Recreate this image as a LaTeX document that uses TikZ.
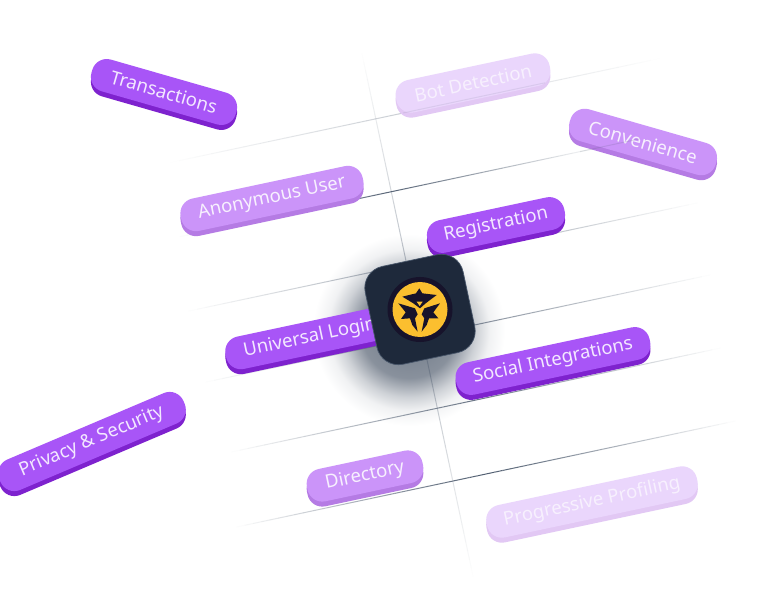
\documentclass[tikz,border=0pt]{standalone}
\usepackage{fontspec}
\setmainfont{Noto Sans}
\usetikzlibrary{calc}
\definecolor{faceA}{HTML}{A855F7}
\definecolor{edgeA}{HTML}{7E22CE}
\definecolor{faceB}{HTML}{CB94F9}
\definecolor{edgeB}{HTML}{B57BE4}
\definecolor{faceC}{HTML}{EAD6FC}
\definecolor{edgeC}{HTML}{E2C8F4}
\definecolor{textA}{HTML}{F3E8FF}
\definecolor{textB}{HTML}{F7F0FE}
\definecolor{chipfill}{HTML}{1E293B}
\definecolor{chipedge}{HTML}{475569}
\definecolor{logodark}{HTML}{17132B}
\definecolor{logogold}{HTML}{FBBF2F}
\definecolor{linecol}{HTML}{475569}
\definecolor{glowcol}{HTML}{334155}
\pgfdeclareradialshading{chipglow}{\pgfpoint{0bp}{0bp}}{%
  color(0bp)=(glowcol!72!white);
  color(12.5bp)=(glowcol!58!white);
  color(17.5bp)=(glowcol!24!white);
  color(21bp)=(glowcol!7!white);
  color(25bp)=(white);
  color(50bp)=(white)}
\tikzset{
  pillface/.style={rectangle,rounded corners=15pt,inner sep=0pt,minimum height=33pt,
    font=\fontsize{18.6}{20}\selectfont},
  logoshape/.style={fill=logodark,draw=none},
}
% name, cx, cy, width, angle, face, edge, text colour, text
\newcommand\pill[9]{%
  \node[pillface,fill=#7,rotate=#5,minimum width=#4pt] (#1edge) at (#2,#3+5) {};
  \node[pillface,fill=#6,text=#8,rotate=#5,minimum width=#4pt] (#1) at (#2,#3) {#9};
}
% cx, cy, angle, half length, peak opacity
\newcommand\hairline[5]{%
  \begin{scope}[shift={(#1,#2)},rotate=#3]
    \foreach \k in {-30,...,29}{%
      \pgfmathsetmacro\opa{#5*(1-abs(\k+.5)/30)}%
      \draw[linecol,line width=1pt,opacity=\opa] ({#4*\k/30},0) -- ({#4*(\k+1)/30},0);
    }
  \end{scope}
}
\begin{document}
\begin{tikzpicture}[x=1pt,y=-1pt]
\useasboundingbox (0,0) rectangle (761,604);
\fill[white] (0,0) rectangle (761,604);
% shadow of the chip
\shade[shading=chipglow] (409,330) circle (96);
% guide lines
\hairline{415}{110.5}{12}{250}{.3}
\hairline{390}{192}{12}{215}{.9}
\hairline{443}{257}{12}{260}{.6}
\hairline{458}{328.5}{12}{258}{.7}
\hairline{476}{400}{12}{250}{.8}
\hairline{486}{474}{12}{255}{.95}
\hairline{417.5}{315}{-78}{268}{.45}
% pills
\pill{transactions}{164}{92}{150}{-16}{faceA}{edgeA}{textA}{Transactions}
\pill{anonymous}{272}{198.5}{186}{12}{faceB}{edgeB}{textB}{Anonymous User}
\pill{bot}{473}{83}{157}{12}{faceC}{edgeC}{textB}{Bot Detection}
\pill{convenience}{643}{142}{152}{-16}{faceB}{edgeB}{textB}{Convenience}
\pill{registration}{496}{225}{140}{12}{faceA}{edgeA}{textA}{Registration}
\pill{universal}{310}{338}{172}{12}{faceA}{edgeA}{textA}{Universal Login}
\pill{social}{553}{361}{198}{12}{faceA}{edgeA}{textA}{Social Integrations}
\pill{privacy}{92}{441.5}{200}{23}{faceA}{edgeA}{textA}{Privacy \& Security}
\pill{directory}{365}{476}{118}{12}{faceB}{edgeB}{textB}{Directory}
\pill{progressive}{592}{502}{215}{12}{faceC}{edgeC}{textB}{Progressive Profiling}
% guide lines seen through the pale pills
\draw[linecol,opacity=.1,line width=1pt] (403,113) -- (545,82.8);
\draw[linecol,opacity=.15,line width=1pt] (580,151.6) -- (640,138.8);
% chip
\node[rectangle,rounded corners=22pt,minimum size=100pt,inner sep=0pt,rotate=12,
  fill=chipfill,draw=chipedge,line width=.7pt] (chip) at (420,309.5) {};
% logo
\node[circle,fill=logodark,minimum size=65pt,inner sep=0pt] (logoring) at (chip.center) {};
\node[circle,fill=logogold,minimum size=55pt,inner sep=0pt] (logodisc) at (chip.center) {};
\begin{scope}[shift={(385,275)},x=.3333pt,y=-.3333pt]
  \fill[logoshape] (103,40) -- (112,55) -- (155,60) -- (122,85) -- (105,100) -- (85,85) -- (52,65) -- (93,55) -- cycle;
  \fill[logogold] (95,80) -- (113,80) -- (104,93) -- cycle;
  \fill[logoshape] (40,85) -- (90,100) -- (98,118) -- (90,130) -- (98,170) -- (82,150) -- (75,130) -- (48,132) -- (62,112) -- cycle;
  \fill[logoshape] (165,85) -- (118,100) -- (110,118) -- (118,130) -- (110,170) -- (125,150) -- (132,130) -- (160,130) -- (145,112) -- cycle;
\end{scope}
\end{tikzpicture}
\end{document}
